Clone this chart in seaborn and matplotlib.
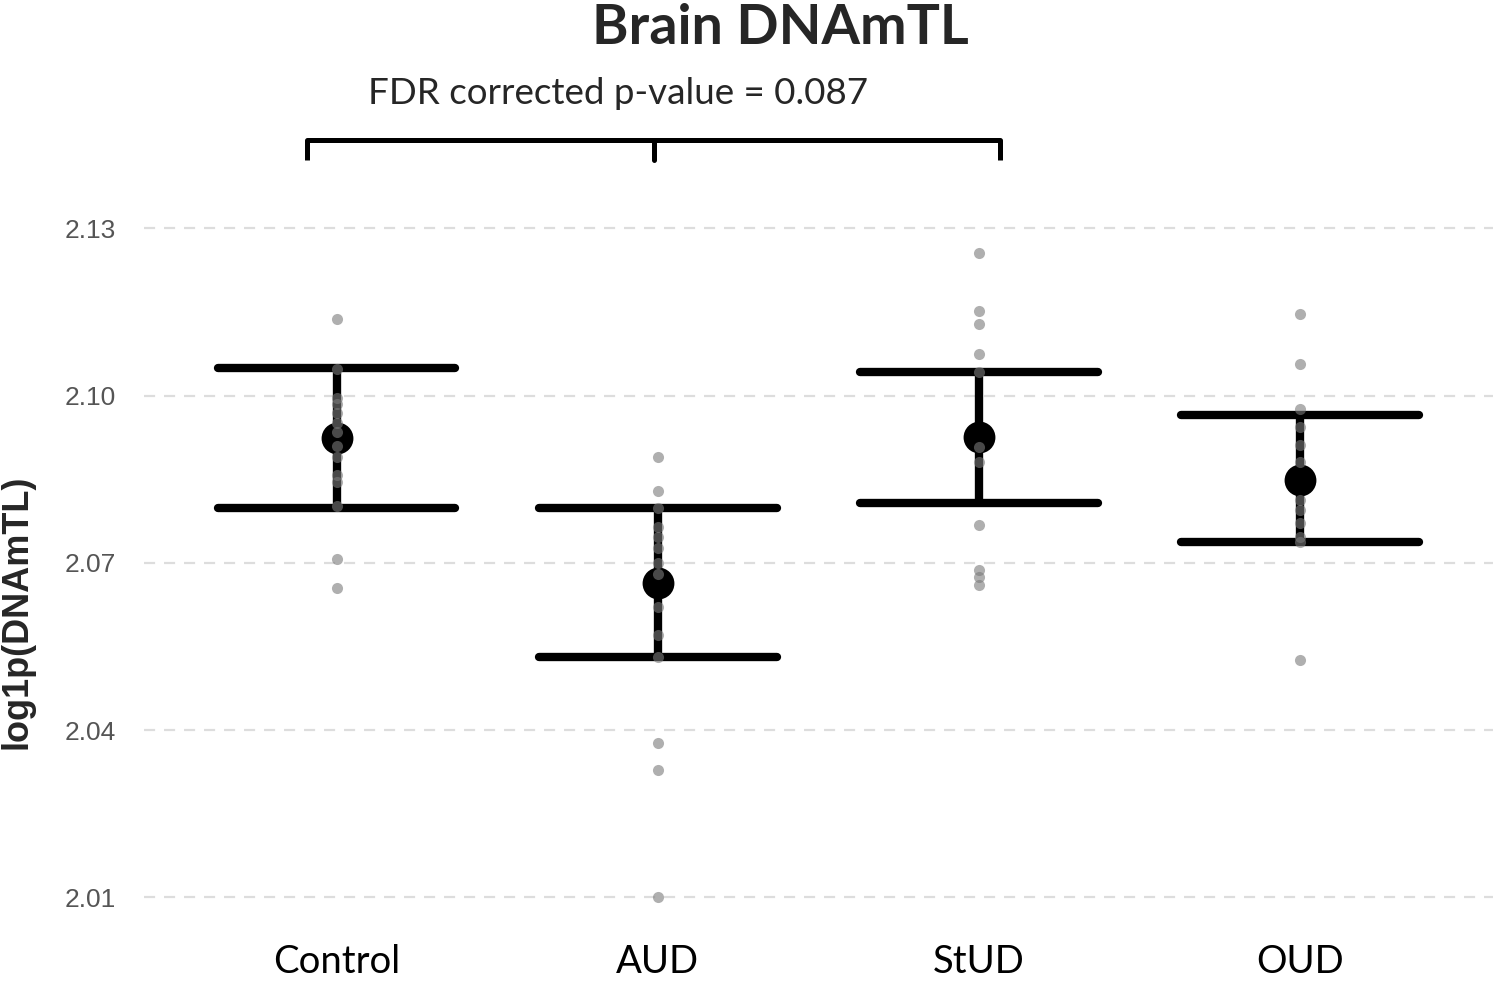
import numpy as np
import pandas as pd
import seaborn as sns
import matplotlib.pyplot as plt

groups = ['Control', 'AUD', 'StUD', 'OUD']

# individual samples
control_vals = [2.1138, 2.1047, 2.0996, 2.0985, 2.0969, 2.0950, 2.0935, 2.0910,
                2.0890, 2.0858, 2.0845, 2.0801, 2.0707, 2.0655]
aud_vals = [2.0889, 2.0828, 2.0799, 2.0765, 2.0747, 2.0727, 2.0700, 2.0680,
            2.0620, 2.0571, 2.0531, 2.0377, 2.0328, 2.0100]
stud_vals = [2.1255, 2.1151, 2.1128, 2.1074, 2.1043, 2.0908, 2.0880, 2.0768,
             2.0687, 2.0675, 2.0660]
oud_vals = [2.1147, 2.1057, 2.0975, 2.0944, 2.0912, 2.0880, 2.0813, 2.0795,
            2.0772, 2.0747, 2.0738, 2.0526]

# summary: mean and mean +/- sd
group_means = [2.0923, 2.0664, 2.0925, 2.0849]
group_lower = [2.0799, 2.0531, 2.0808, 2.0738]
group_upper = [2.1050, 2.0799, 2.1043, 2.0966]

y_ticks = [2.01, 2.04, 2.07, 2.10, 2.13]

df = pd.DataFrame({
    'group': (['Control'] * len(control_vals) + ['AUD'] * len(aud_vals)
              + ['StUD'] * len(stud_vals) + ['OUD'] * len(oud_vals)),
    'value': control_vals + aud_vals + stud_vals + oud_vals,
})
summary = pd.DataFrame({'group': groups, 'mean': group_means,
                        'lower': group_lower, 'upper': group_upper})

sns.set_style('white')
plt.rcParams['font.family'] = ['Lato', 'DejaVu Sans']

fig = plt.figure(figsize=(15, 9.84), dpi=100)
ax = fig.add_axes([0.096, 0.07, 0.899, 0.86])

# error bars (caps + vertical line)
xpos = np.arange(len(groups))
ax.vlines(xpos, summary['lower'], summary['upper'], color='black', lw=6, zorder=2)
ax.hlines(summary['upper'], xpos - 0.37, xpos + 0.37, color='black', lw=6, zorder=2,
          capstyle='round')
ax.hlines(summary['lower'], xpos - 0.37, xpos + 0.37, color='black', lw=6, zorder=2,
          capstyle='round')

sns.scatterplot(data=summary, x='group', y='mean', color='black', s=450,
                edgecolor='black', zorder=3, ax=ax, legend=False)
sns.stripplot(data=df, x='group', y='value', order=groups, jitter=False,
              color='#7a7a7a', alpha=0.6, size=8, linewidth=0, zorder=4, ax=ax)

# significance bracket
bx_left, bx_mid, bx_right = -0.093, 0.988, 2.065
b_top, b_bot = 2.1459, 2.1422
ax.plot([bx_left, bx_left, bx_right, bx_right], [b_bot, b_top, b_top, b_bot],
        color='black', lw=3.6, solid_capstyle='butt', clip_on=False)
ax.plot([bx_mid, bx_mid], [b_top, b_bot], color='black', lw=3.6, clip_on=False)
ax.text(0.878, 2.1542, 'FDR corrected p-value = 0.087', ha='center', va='center',
        fontsize=26.5)

ax.set_xlim(-0.6, 3.6)
ax.set_ylim(2.0068, 2.1586)
ax.set_yticks(y_ticks)
ax.set_yticklabels([f'{t:.2f}' for t in y_ticks], family='Liberation Sans',
                   color='#555555', fontsize=19)
ax.tick_params(axis='y', length=0, pad=20)
ax.tick_params(axis='x', length=0, pad=21, labelsize=27.5, colors='black')
for y in y_ticks:
    ax.axhline(y, color='#dddddd', lw=1.6, ls=(0, (5, 4)), zorder=0)
for s in ax.spines.values():
    s.set_visible(False)

ax.set_xlabel('')
ax.set_ylabel('log1p(DNAmTL)', family='Liberation Sans', fontweight='bold',
              fontsize=26, va='center')
ax.yaxis.set_label_coords(-0.094, 0.359)

fig.text(0.52, 0.972, 'Brain DNAmTL', ha='center', va='center',
         fontsize=40, fontweight='bold')

fig.savefig('out.png', dpi=100)
